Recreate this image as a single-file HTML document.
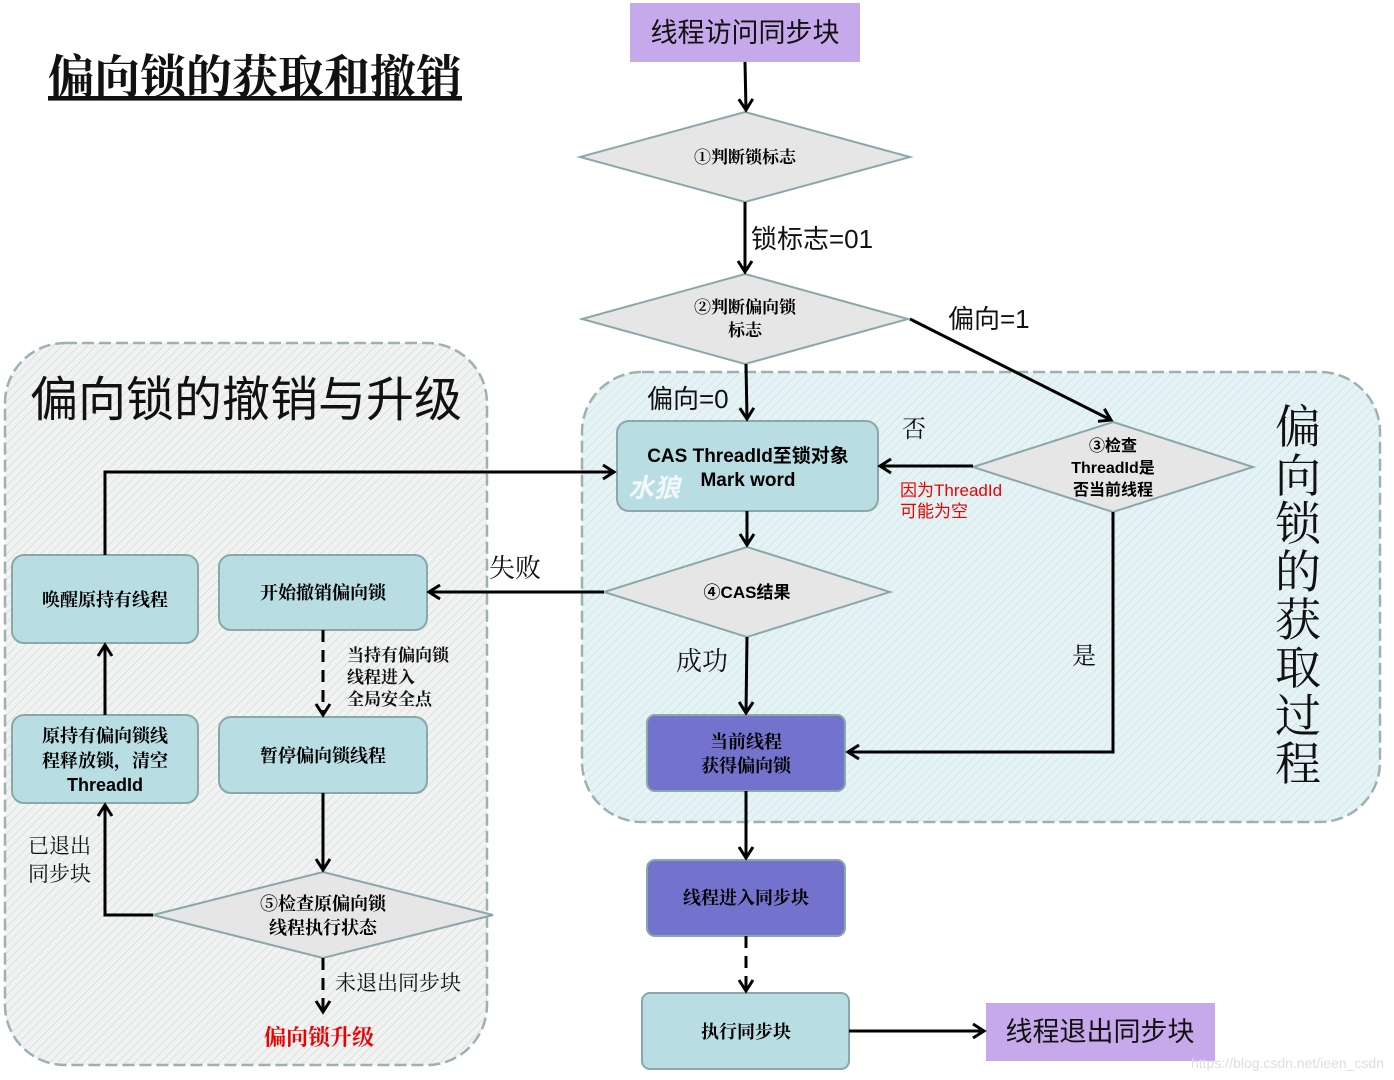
<!DOCTYPE html>
<html><head><meta charset="utf-8"><style>
html,body{margin:0;padding:0;background:#fff;}
svg{display:block;}
text{font-family:"Liberation Sans","Noto Sans CJK SC",sans-serif;}
.s{font-family:"Noto Serif CJK SC","Liberation Serif",serif;}
.b{font-weight:bold;}
</style></head><body>
<svg width="1394" height="1080" viewBox="0 0 1394 1080" xmlns="http://www.w3.org/2000/svg">
<defs>
<marker id="a" markerWidth="20" markerHeight="20" refX="14" refY="10" orient="auto" markerUnits="userSpaceOnUse">
<polyline points="3,3 14,10 3,17" fill="none" stroke="#000" stroke-width="3"/>
</marker>
<pattern id="h1" width="6" height="6" patternUnits="userSpaceOnUse" patternTransform="rotate(45)">
<rect width="6" height="6" fill="#f1f2f2"/><line x1="0" y1="0" x2="0" y2="6" stroke="#d9dcdc" stroke-width="1.5"/>
</pattern>
<pattern id="h2" width="6" height="6" patternUnits="userSpaceOnUse" patternTransform="rotate(45)">
<rect width="6" height="6" fill="#e6f3f5"/><line x1="0" y1="0" x2="0" y2="6" stroke="#cde3e7" stroke-width="1.5"/>
</pattern>
</defs>

<rect x="5" y="343" width="482" height="722" rx="60" fill="url(#h1)" stroke="#9fb0b4" stroke-width="2.5" stroke-dasharray="12,5"/>
<rect x="582" y="372" width="798" height="450" rx="60" fill="url(#h2)" stroke="#9fb0b4" stroke-width="2.5" stroke-dasharray="12,5"/>

<text x="48" y="93" font-size="46" class="s b" fill="#111" text-decoration="underline">偏向锁的获取和撤销</text>
<text x="30" y="416" font-size="48" fill="#111">偏向锁的撤销与升级</text>
<text font-size="46" fill="#111" class="s">
<tspan x="1275" y="443">偏</tspan><tspan x="1275" y="492">向</tspan><tspan x="1275" y="540">锁</tspan><tspan x="1275" y="588">的</tspan><tspan x="1275" y="636">获</tspan><tspan x="1275" y="684">取</tspan><tspan x="1275" y="732">过</tspan><tspan x="1275" y="780">程</tspan>
</text>

<rect x="630" y="3" width="230" height="59" fill="#c6a9ea"/>
<text x="745" y="42" font-size="27" text-anchor="middle" fill="#111">线程访问同步块</text>

<polygon points="745,112 910,157 745,202 580,157" fill="#e6e6e6" stroke="#8aa8aa" stroke-width="2"/>
<text x="745" y="163" font-size="17" text-anchor="middle" class="s b">①判断锁标志</text>
<polygon points="745,274 908,319 745,364 582,319" fill="#e6e6e6" stroke="#8aa8aa" stroke-width="2"/>
<text x="745" y="313" font-size="17" text-anchor="middle" class="s b">②判断偏向锁</text>
<text x="745" y="336" font-size="17" text-anchor="middle" class="s b">标志</text>
<polygon points="1113,422 1253,467 1113,512 973,467" fill="#e6e6e6" stroke="#8aa8aa" stroke-width="2"/>
<text x="1113" y="451" font-size="16" text-anchor="middle" class="b">③检查</text>
<text x="1113" y="473" font-size="16" text-anchor="middle" class="b">ThreadId是</text>
<text x="1113" y="495" font-size="16" text-anchor="middle" class="b">否当前线程</text>
<polygon points="747,547 890,592 747,637 604,592" fill="#e6e6e6" stroke="#8aa8aa" stroke-width="2"/>
<text x="747" y="598" font-size="17" text-anchor="middle" font-weight="bold">④CAS结果</text>
<polygon points="323,872 493,915 323,958 153,915" fill="#e6e6e6" stroke="#8aa8aa" stroke-width="2"/>
<text x="323" y="910" font-size="18" text-anchor="middle" class="s b">⑤检查原偏向锁</text>
<text x="323" y="934" font-size="18" text-anchor="middle" class="s b">线程执行状态</text>

<rect x="617" y="421" width="261" height="90" rx="12" fill="#b8dde2" stroke="#8aa8aa" stroke-width="2"/>
<text x="748" y="462" font-size="19" text-anchor="middle" font-weight="bold">CAS ThreadId至锁对象</text>
<text x="748" y="486" font-size="19" text-anchor="middle" font-weight="bold">Mark word</text>
<text x="628" y="497" font-size="26" fill="#fff" opacity="0.8" font-style="italic" font-weight="bold">水狼</text>

<rect x="647" y="715" width="198" height="76" rx="8" fill="#7372cc" stroke="#8aa8aa" stroke-width="2"/>
<text x="746" y="748" font-size="18" text-anchor="middle" class="s b">当前线程</text>
<text x="746" y="772" font-size="18" text-anchor="middle" class="s b">获得偏向锁</text>

<rect x="647" y="860" width="198" height="76" rx="8" fill="#7372cc" stroke="#8aa8aa" stroke-width="2"/>
<text x="746" y="904" font-size="18" text-anchor="middle" class="s b">线程进入同步块</text>

<rect x="642" y="993" width="207" height="76" rx="8" fill="#b8dde2" stroke="#8aa8aa" stroke-width="2"/>
<text x="746" y="1038" font-size="18" text-anchor="middle" class="s b">执行同步块</text>

<rect x="986" y="1003" width="229" height="58" fill="#c6a9ea"/>
<text x="1100" y="1041" font-size="27" text-anchor="middle" fill="#111">线程退出同步块</text>

<rect x="12" y="555" width="186" height="88" rx="12" fill="#b8dde2" stroke="#8aa8aa" stroke-width="2"/>
<text x="105" y="606" font-size="18" text-anchor="middle" class="s b">唤醒原持有线程</text>
<rect x="219" y="555" width="208" height="75" rx="12" fill="#b8dde2" stroke="#8aa8aa" stroke-width="2"/>
<text x="323" y="599" font-size="18" text-anchor="middle" class="s b">开始撤销偏向锁</text>
<rect x="12" y="715" width="186" height="88" rx="12" fill="#b8dde2" stroke="#8aa8aa" stroke-width="2"/>
<text x="105" y="742" font-size="18" text-anchor="middle" class="s b">原持有偏向锁线</text>
<text x="105" y="767" font-size="18" text-anchor="middle" class="s b">程释放锁，清空</text>
<text x="105" y="791" font-size="18" text-anchor="middle" font-weight="bold">ThreadId</text>
<rect x="219" y="717" width="208" height="76" rx="12" fill="#b8dde2" stroke="#8aa8aa" stroke-width="2"/>
<text x="323" y="762" font-size="18" text-anchor="middle" class="s b">暂停偏向锁线程</text>

<g stroke="#000" stroke-width="3" fill="none">
<line x1="745" y1="62" x2="746" y2="110" marker-end="url(#a)"/>
<line x1="745" y1="202" x2="745" y2="272" marker-end="url(#a)"/>
<line x1="746" y1="364" x2="747" y2="419" marker-end="url(#a)"/>
<line x1="910" y1="319" x2="1111" y2="420" marker-end="url(#a)"/>
<line x1="973" y1="466" x2="880" y2="466" marker-end="url(#a)"/>
<polyline points="1113,512 1113,752 848,752" marker-end="url(#a)"/>
<line x1="747" y1="511" x2="747" y2="545" marker-end="url(#a)"/>
<line x1="747" y1="637" x2="746" y2="713" marker-end="url(#a)"/>
<line x1="746" y1="791" x2="746" y2="858" marker-end="url(#a)"/>
<line x1="746" y1="936" x2="746" y2="991" stroke-dasharray="12,8" marker-end="url(#a)"/>
<line x1="849" y1="1031" x2="984" y2="1031" marker-end="url(#a)"/>
<line x1="604" y1="592" x2="429" y2="592" marker-end="url(#a)"/>
<polyline points="105,555 105,472 614,472" marker-end="url(#a)"/>
<line x1="323" y1="630" x2="323" y2="715" stroke-dasharray="12,8" marker-end="url(#a)"/>
<line x1="323" y1="793" x2="323" y2="870" marker-end="url(#a)"/>
<polyline points="153,915 105,915 105,805" marker-end="url(#a)"/>
<line x1="105" y1="715" x2="105" y2="645" marker-end="url(#a)"/>
<line x1="323" y1="958" x2="323" y2="1012" stroke-dasharray="12,8" marker-end="url(#a)"/>
</g>

<text x="751" y="248" font-size="26" fill="#111">锁标志=01</text>
<text x="948" y="328" font-size="26" fill="#111">偏向=1</text>
<text x="647" y="408" font-size="26" fill="#111">偏向=0</text>
<text x="902" y="437" font-size="24" class="s" fill="#111">否</text>
<text x="900" y="496" font-size="17" fill="#e00">因为ThreadId</text>
<text x="900" y="517" font-size="17" fill="#e00">可能为空</text>
<text x="489" y="577" font-size="26" class="s" fill="#111">失败</text>
<text x="676" y="670" font-size="26" class="s" fill="#111">成功</text>
<text x="1072" y="664" font-size="24" class="s" fill="#111">是</text>
<text x="347" y="661" font-size="17" class="s b" fill="#111">当持有偏向锁</text>
<text x="347" y="683" font-size="17" class="s b" fill="#111">线程进入</text>
<text x="347" y="705" font-size="17" class="s b" fill="#111">全局安全点</text>
<text x="28" y="853" font-size="21" class="s" fill="#111">已退出</text>
<text x="28" y="881" font-size="21" class="s" fill="#111">同步块</text>
<text x="335" y="990" font-size="21" class="s" fill="#111">未退出同步块</text>
<text x="264" y="1045" font-size="22" class="s" fill="#e00" font-weight="bold">偏向锁升级</text>
<text x="1384" y="1068" font-size="14" text-anchor="end" fill="#ddd">https://blog.csdn.net/ieen_csdn</text>
</svg>
</body></html>
